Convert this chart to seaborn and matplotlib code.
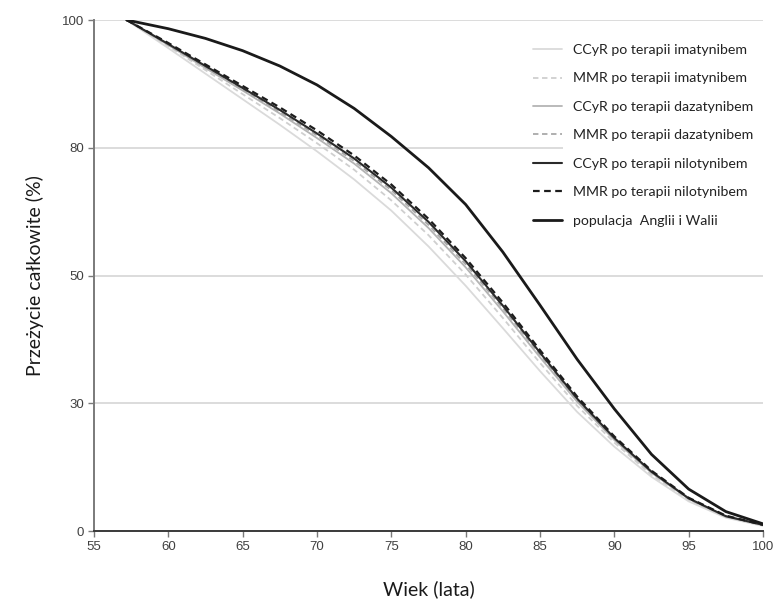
import matplotlib
matplotlib.use("Agg")
import matplotlib.pyplot as plt
from matplotlib.patches import Rectangle
import pandas as pd
import seaborn as sns

# Age (years) at which the survival curves are tabulated
wiek = [57.2, 60, 62.5, 65, 67.5, 70, 72.5, 75, 77.5, 80, 82.5, 85, 87.5, 90, 92.5, 95, 97.5, 100]

# Overall survival curves (position on the vertical survival scale)
ccyr_imatynib = [100, 94.5, 89.5, 84.5, 79.5, 74.3, 68.8, 62.7, 55.7, 48.0, 39.7, 31.3, 23.3, 16.5, 10.6, 5.8, 2.6, 1.0]
mmr_imatynib = [100, 94.9, 90.2, 85.5, 80.8, 75.9, 70.7, 64.7, 57.9, 50.2, 41.7, 32.9, 24.5, 17.3, 11.0, 6.1, 2.8, 1.1]
ccyr_dazatynib = [100, 95.1, 90.6, 86.2, 81.7, 76.9, 71.9, 66.1, 59.3, 51.6, 43.0, 34.0, 25.3, 17.8, 11.4, 6.3, 2.8, 1.2]
mmr_dazatynib = [100, 95.2, 90.8, 86.4, 82.0, 77.4, 72.4, 66.7, 59.9, 52.2, 43.6, 34.5, 25.6, 18.0, 11.5, 6.3, 2.9, 1.2]
ccyr_nilotynib = [100, 95.3, 91.0, 86.7, 82.4, 77.8, 72.9, 67.2, 60.5, 52.8, 44.1, 34.9, 25.9, 18.2, 11.6, 6.4, 2.9, 1.2]
mmr_nilotynib = [100, 95.5, 91.3, 87.1, 82.9, 78.4, 73.5, 67.8, 61.1, 53.4, 44.7, 35.4, 26.3, 18.5, 11.8, 6.5, 3.0, 1.2]
populacja = [100, 98.3, 96.4, 94.0, 91.0, 87.3, 82.7, 77.2, 71.1, 63.9, 54.6, 44.2, 33.6, 23.9, 15.0, 8.2, 3.8, 1.4]

etykiety = [
    "CCyR po terapii imatynibem",
    "MMR po terapii imatynibem",
    "CCyR po terapii dazatynibem",
    "MMR po terapii dazatynibem",
    "CCyR po terapii nilotynibem",
    "MMR po terapii nilotynibem",
    "populacja  Anglii i Walii",
]
serie = [ccyr_imatynib, mmr_imatynib, ccyr_dazatynib, mmr_dazatynib,
         ccyr_nilotynib, mmr_nilotynib, populacja]

# Axis ticks
x_ticks = [55, 60, 65, 70, 75, 80, 85, 90, 95, 100]
y_tick_pos = [0, 25, 50, 75, 100]
y_tick_labels = ["0", "30", "50", "80", "100"]

# Line styles per series
kolory = ["#dadada", "#cfcfcf", "#b4b4b4", "#a9a9a9", "#2a2a2a", "#1c1c1c", "#1a1a1a"]
style = ["-", (0, (3, 2)), "-", (0, (3, 2)), "-", (0, (3, 2)), "-"]
grubosci = [1.3, 1.3, 1.3, 1.3, 1.5, 1.6, 2.0]

sns.set_theme(style="white")
plt.rcParams["font.family"] = ["Liberation Sans", "DejaVu Sans"]

fig = plt.figure(figsize=(7.74, 6.03), dpi=100)
ax = fig.add_axes([0.1214, 0.1194, 0.8644, 0.8474])

for nazwa, wart, kol, ls, lw in zip(etykiety, serie, kolory, style, grubosci):
    df = pd.DataFrame({"wiek": wiek, "przezycie": wart})
    sns.lineplot(data=df, x="wiek", y="przezycie", ax=ax, color=kol,
                 linestyle=ls, linewidth=lw, label=nazwa, zorder=3)

ax.set_xlim(55, 100)
ax.set_ylim(0, 100)
ax.set_xticks(x_ticks)
ax.set_xticklabels([str(t) for t in x_ticks])
ax.set_yticks(y_tick_pos)
ax.set_yticklabels(y_tick_labels)

ax.yaxis.grid(True, color="#d9d9d9", linewidth=1.3)
ax.xaxis.grid(False)
ax.set_axisbelow(True)

for s in ["top", "right"]:
    ax.spines[s].set_visible(False)
ax.spines["left"].set_color("#7a7a7a")
ax.spines["left"].set_linewidth(1.4)
ax.spines["bottom"].set_color("#3a3a3a")
ax.spines["bottom"].set_linewidth(1.4)

ax.tick_params(axis="both", which="major", direction="out", length=4, width=1,
               color="#7a7a7a", labelsize=9.5, labelcolor="#404040", pad=3,
               bottom=True, left=True)

lab_font = ["Lato", "DejaVu Sans"]
ax.set_xlabel("Wiek (lata)", fontsize=14, family=lab_font, color="#1a1a1a", labelpad=20)
ax.set_ylabel("Przeżycie całkowite (%)", fontsize=14, family=lab_font, color="#1a1a1a", labelpad=13)

# white panel behind the legend text
ax.add_patch(Rectangle((0.701, 0.55), 0.3, 0.42, transform=ax.transAxes,
                       facecolor="white", edgecolor="none", zorder=1))

leg = ax.legend(loc="upper left", bbox_to_anchor=(0.656, 0.953), frameon=False,
                borderaxespad=0, borderpad=0, handlelength=2.05, handletextpad=0.75,
                labelspacing=1.16, prop={"family": lab_font, "size": 10.2})
for t in leg.get_texts():
    t.set_color("#222222")

fig.savefig("out.png", dpi=100, facecolor="white")
